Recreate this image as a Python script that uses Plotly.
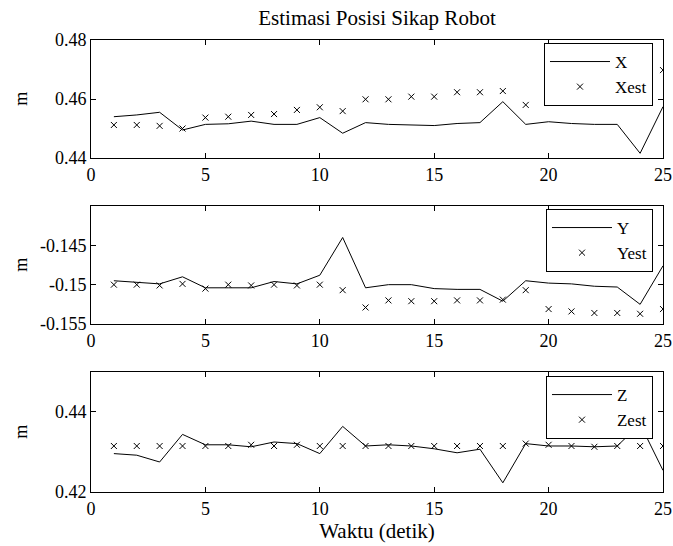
import plotly.graph_objects as go

t = list(range(1, 26))

X = [0.4540, 0.4546, 0.4555, 0.4495, 0.4514, 0.4516, 0.4525, 0.4514, 0.4514, 0.4537,
     0.4484, 0.4520, 0.4514, 0.4513, 0.4510, 0.4517, 0.4520, 0.4591, 0.4514, 0.4523,
     0.4517, 0.4514, 0.4514, 0.4416, 0.4574]
Xest = [0.4512, 0.4512, 0.4509, 0.4500, 0.4537, 0.4540, 0.4546, 0.4549, 0.4563, 0.4572,
        0.4559, 0.4599, 0.4599, 0.4608, 0.4608, 0.4623, 0.4623, 0.4627, 0.4580, 0.4635,
        0.4645, 0.4655, 0.4665, 0.4675, 0.4698]

Y = [-0.1495, -0.1497, -0.1499, -0.1490, -0.1504, -0.1504, -0.1504, -0.1496, -0.1499, -0.1488,
     -0.1440, -0.1504, -0.1500, -0.1500, -0.1505, -0.1506, -0.1506, -0.1521, -0.1495, -0.1498,
     -0.1499, -0.1502, -0.1503, -0.1525, -0.1476]
Yest = [-0.1500, -0.1500, -0.1501, -0.1499, -0.1505, -0.1500, -0.1501, -0.1500, -0.1501, -0.1500,
        -0.1507, -0.1529, -0.1520, -0.1521, -0.1521, -0.1520, -0.1520, -0.1519, -0.1507, -0.1531,
        -0.1534, -0.1536, -0.1536, -0.1537, -0.1531]

Z = [0.4296, 0.4292, 0.4275, 0.4344, 0.4318, 0.4318, 0.4313, 0.4325, 0.4321, 0.4296,
     0.4364, 0.4315, 0.4318, 0.4315, 0.4308, 0.4298, 0.4307, 0.4223, 0.4321, 0.4315,
     0.4315, 0.4313, 0.4315, 0.4370, 0.4254]
Zest = [0.4315, 0.4315, 0.4315, 0.4315, 0.4315, 0.4315, 0.4318, 0.4315, 0.4318, 0.4315,
        0.4315, 0.4315, 0.4315, 0.4315, 0.4315, 0.4315, 0.4315, 0.4315, 0.4321, 0.4318,
        0.4315, 0.4313, 0.4315, 0.4315, 0.4315]

x_ticks = [0, 5, 10, 15, 20, 25]
y1_ticks = [0.44, 0.46, 0.48]
y1_text = ["0.44", "0.46", "0.48"]
y2_ticks = [-0.155, -0.15, -0.145]
y2_text = ["-0.155", "-0.15", "-0.145"]
y3_ticks = [0.42, 0.44]
y3_text = ["0.42", "0.44"]

FONT = "Liberation Serif"

fig = go.Figure()
line_style = dict(color="black", width=1)
mk = dict(symbol="x-thin", size=6, color="black", line=dict(color="black", width=1))

sets = [("X", "Xest", X, Xest, "x", "y", "legend"),
        ("Y", "Yest", Y, Yest, "x2", "y2", "legend2"),
        ("Z", "Zest", Z, Zest, "x3", "y3", "legend3")]
for name, ename, v, ve, xa, ya, lg in sets:
    fig.add_trace(go.Scatter(x=t, y=v, mode="lines", name=name, line=line_style,
                             xaxis=xa, yaxis=ya, legend=lg))
    fig.add_trace(go.Scatter(x=t, y=ve, mode="markers", name=ename, marker=mk,
                             xaxis=xa, yaxis=ya, legend=lg))

ax = dict(showline=True, linecolor="black", linewidth=1, mirror="ticks", ticks="inside",
          ticklen=5, tickcolor="black", showgrid=False, zeroline=False,
          ticklabeloverflow="allow",
          tickfont=dict(family=FONT, size=18, color="black"))

xcommon = dict(ax, range=[0, 25], tickvals=x_ticks)
doms = [[0.7389, 1.0], [0.3717, 0.6327], [0.0, 0.2655]]

leg = dict(bgcolor="white", bordercolor="black", borderwidth=1, xanchor="right",
           yanchor="top", x=0.9825, itemwidth=60, tracegroupgap=0,
           font=dict(family=FONT, size=17, color="black"))

annots = []
for d in doms:
    annots.append(dict(text="m", xref="paper", yref="paper", x=-0.123, y=(d[0] + d[1]) / 2,
                       xanchor="center", yanchor="middle", textangle=-90, showarrow=False,
                       font=dict(family=FONT, size=18, color="black")))

fig.update_layout(
    width=673, height=546,
    margin=dict(l=91, r=10, t=40, b=54, autoexpand=False),
    paper_bgcolor="white", plot_bgcolor="white",
    title=dict(text="Estimasi Posisi Sikap Robot", x=0.5, xref="paper", xanchor="center",
               y=1 - 18 / 546, yanchor="middle",
               font=dict(family=FONT, size=21, color="black")),
    xaxis=dict(xcommon, anchor="y"),
    xaxis2=dict(xcommon, anchor="y2"),
    xaxis3=dict(xcommon, anchor="y3",
                title=dict(text="Waktu (detik)", font=dict(family=FONT, size=21, color="black"),
                           standoff=4)),
    yaxis=dict(ax, domain=doms[0], range=[0.44, 0.48], tickvals=y1_ticks, ticktext=y1_text,
               anchor="x"),
    yaxis2=dict(ax, domain=doms[1], range=[-0.155, -0.14], tickvals=y2_ticks, ticktext=y2_text,
                anchor="x2"),
    yaxis3=dict(ax, domain=doms[2], range=[0.42, 0.45], tickvals=y3_ticks, ticktext=y3_text,
                anchor="x3"),
    legend=dict(leg, y=0.9934),
    legend2=dict(leg, y=0.6261),
    legend3=dict(leg, y=0.2566),
    annotations=annots,
    showlegend=True,
)

fig.write_html("out.html", config={"displayModeBar": False},
               post_script="document.body.style.margin='0';")
